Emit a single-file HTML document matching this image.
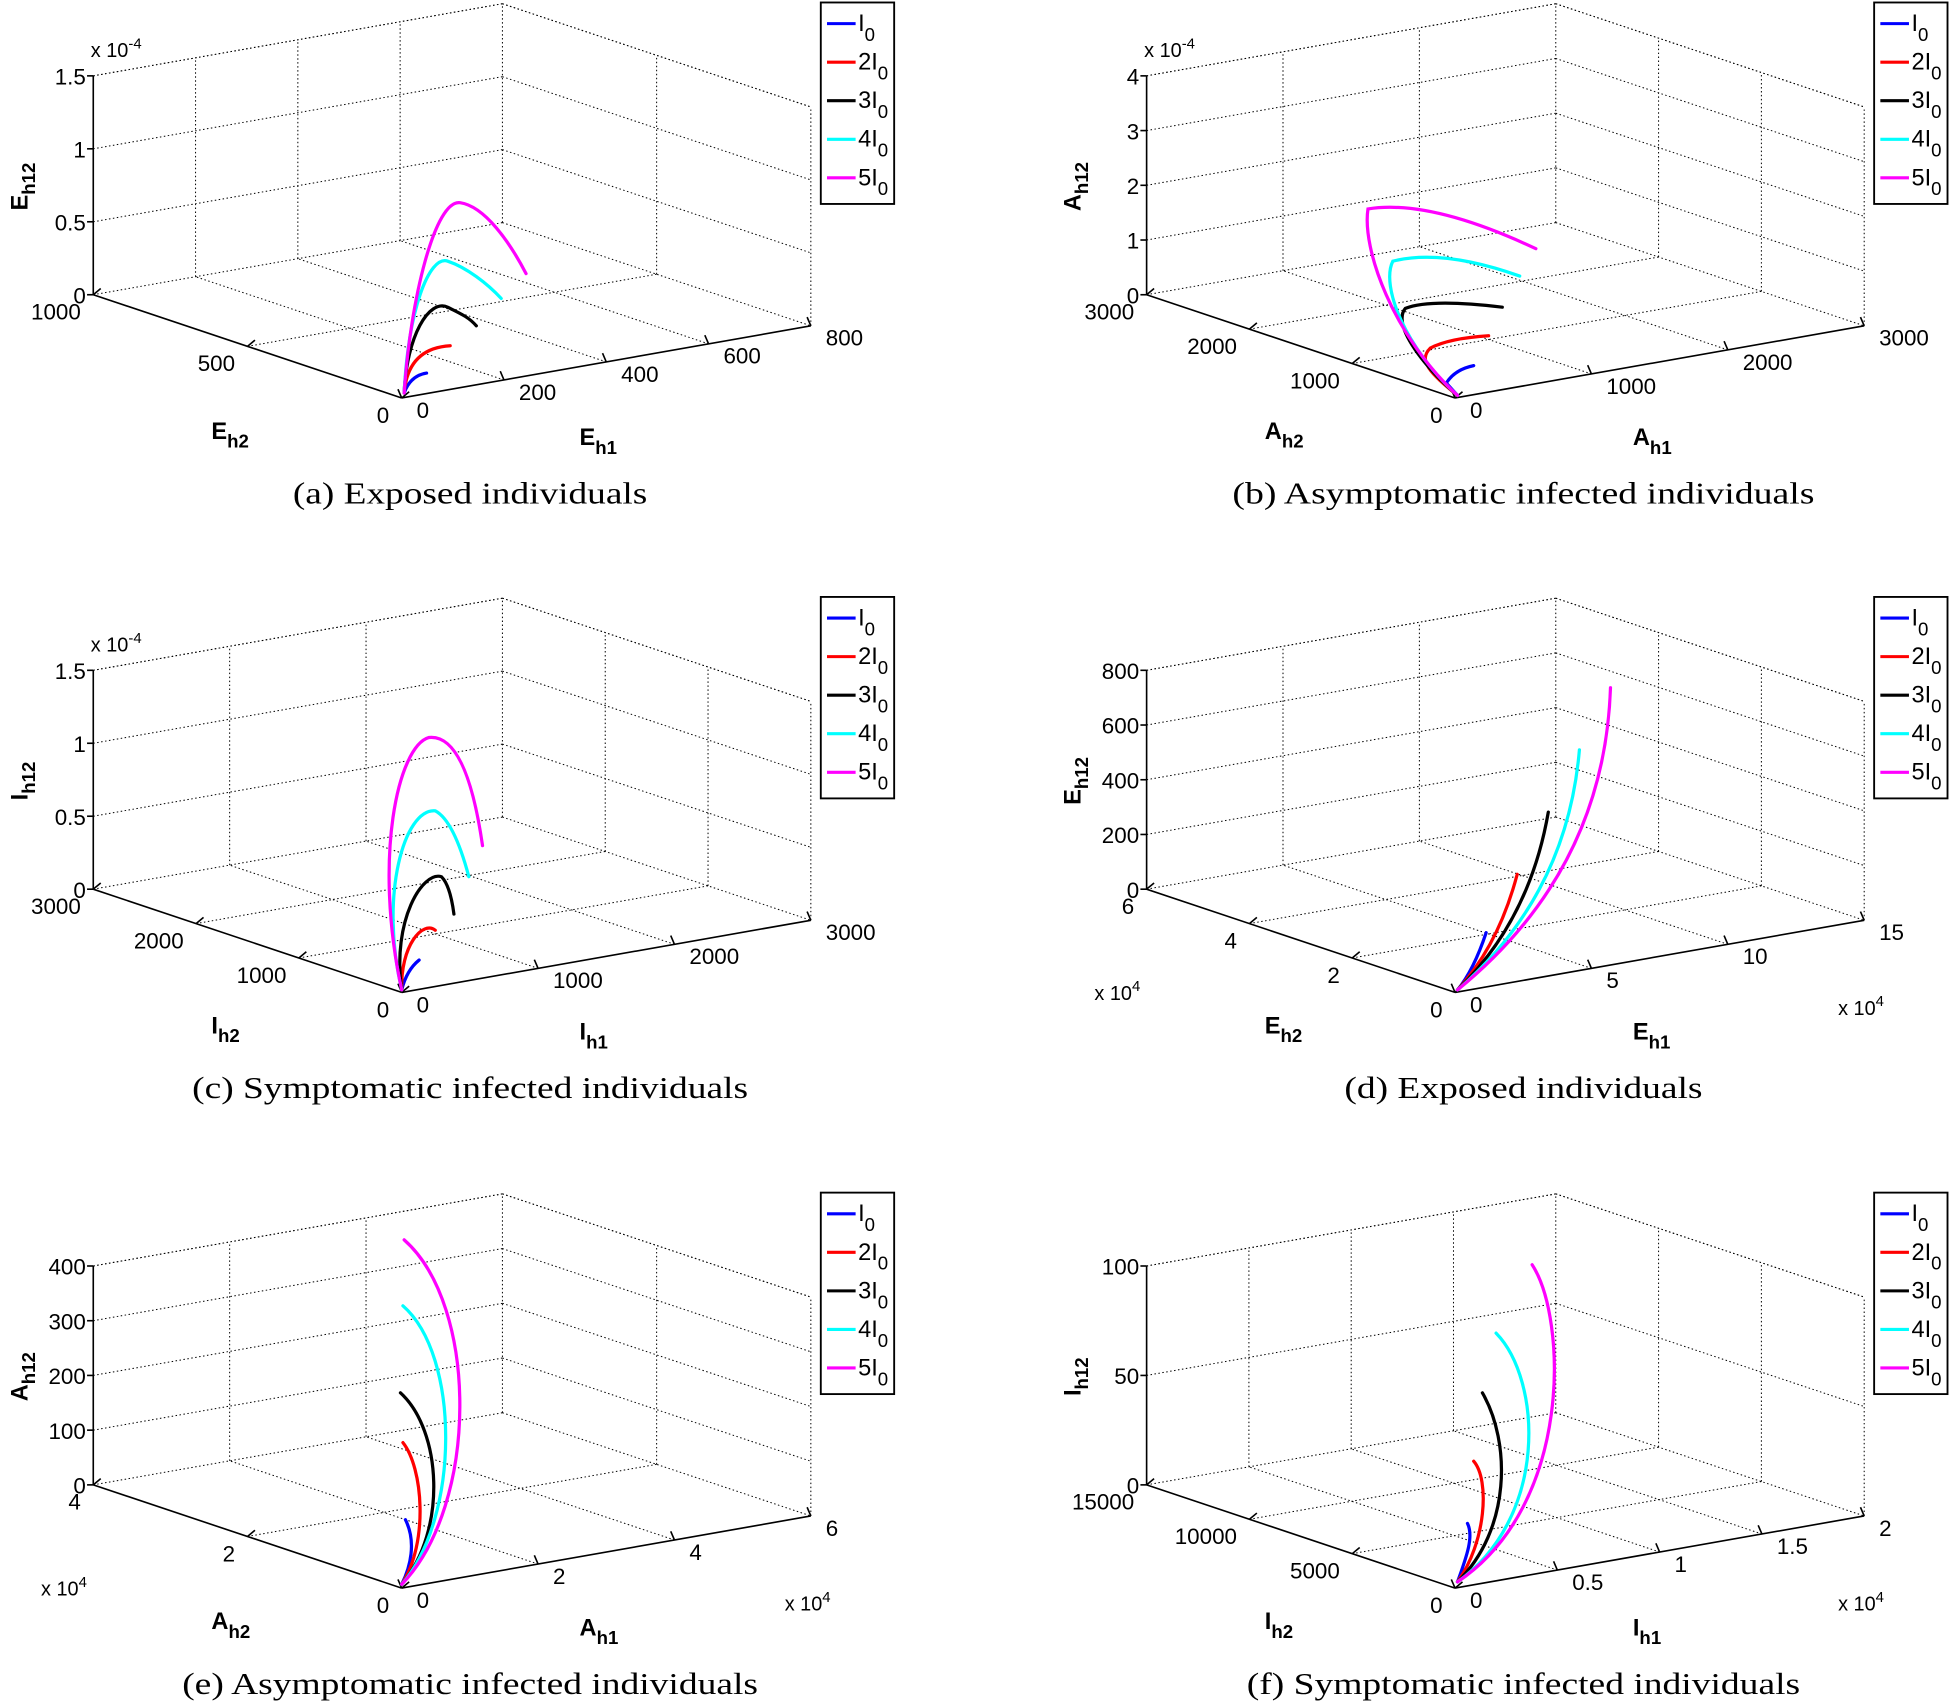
<!DOCTYPE html>
<html><head><meta charset="utf-8">
<style>
html,body{margin:0;padding:0;background:#fff;}
svg{display:block;}
text{font-family:"Liberation Sans",Arial,sans-serif;}
</style></head>
<body>
<svg id="s" width="1950" height="1703" viewBox="0 0 1568 1369.4" preserveAspectRatio="none" xmlns="http://www.w3.org/2000/svg"></svg>
<script>
const S=document.getElementById('s');
let out='';
const panels=[
 {dx:0,dy:0,z:['0','0.5','1','1.5'],h2:['0','500','1000'],h1:['0','200','400','600','800'],zexp:true,h2exp:false,h1exp:false,L:'E',cap:'(a) Exposed individuals',cl:285},
 {dx:847,dy:0,z:['0','1','2','3','4'],h2:['0','1000','2000','3000'],h1:['0','1000','2000','3000'],zexp:true,L:'A',cap:'(b) Asymptomatic infected individuals',cl:468},
 {dx:0,dy:478,z:['0','0.5','1','1.5'],h2:['0','1000','2000','3000'],h1:['0','1000','2000','3000'],zexp:true,L:'I',cap:'(c) Symptomatic infected individuals',cl:447},
 {dx:847,dy:478,z:['0','200','400','600','800'],h2:['0','2','4','6'],h1:['0','5','10','15'],h2exp:true,h1exp:true,L:'E',cap:'(d) Exposed individuals',cl:288},
 {dx:0,dy:957,z:['0','100','200','300','400'],h2:['0','2','4'],h1:['0','2','4','6'],h2exp:true,h1exp:true,L:'A',cap:'(e) Asymptomatic infected individuals',cl:463},
 {dx:847,dy:957,z:['0','50','100'],h2:['0','5000','10000','15000'],h1:['0','0.5','1','1.5','2'],h1exp:true,L:'I',cap:'(f) Symptomatic infected individuals',cl:445}
];
const curves=[
 ['M325,316 Q330,302 343,300','M325,316 Q328,280 362,278','M325,316 C327,270 345,240 360,247 C370,252 377,255 383,262','M325,316 C328,250 345,205 360,210 C375,215 392,228 403,240','M325,316 C330,240 350,160 370,163 C390,166 410,195 423,220'],
 ['M1172,318 L1163,308 Q1170,297 1185,294','M1172,318 C1150,300 1140,290 1150,280 Q1165,272 1197,270','M1172,318 C1140,290 1120,260 1130,248 Q1150,240 1208,247','M1172,318 C1130,280 1110,230 1120,210 Q1160,200 1222,222','M1172,318 C1120,270 1095,200 1100,168 Q1150,160 1235,200'],
 ['M323,796 Q327,780 337,772','M323,796 C322,760 340,740 350,748','M323,796 C315,740 340,700 355,705 Q362,712 365,735','M323,796 C305,720 325,650 350,652 Q365,660 377,705','M323,796 C300,690 320,600 345,593 Q375,590 388,680'],
 ['M1172,796 Q1185,780 1195,750','M1172,796 Q1205,760 1220,703','M1172,796 Q1230,740 1245,653','M1172,796 Q1260,720 1270,603','M1172,796 Q1290,700 1295,553'],
 ['M323,1274 C330,1260 335,1240 326,1222','M323,1274 C345,1240 340,1180 324,1160','M323,1274 C360,1230 355,1150 322,1120','M323,1274 C370,1220 370,1090 324,1050','M323,1274 C385,1210 385,1050 325,997'],
 ['M1172,1272 C1180,1250 1185,1235 1180,1225','M1172,1272 C1195,1240 1198,1190 1185,1175','M1172,1272 C1215,1230 1215,1160 1192,1120','M1172,1272 C1245,1220 1240,1110 1203,1072','M1172,1272 C1265,1210 1260,1060 1232,1017']
];
const cols=['#0000ff','#ff0000','#000000','#00ffff','#ff00ff'];
function ln(a,b,dot){out+=`<line x1="${a[0]}" y1="${a[1]}" x2="${b[0]}" y2="${b[1]}" stroke="#000" stroke-width="${dot?0.8:1.3}" ${dot?'stroke-dasharray="1.2 2"':''}/>`;}
function tx(x,y,s,anchor,size,extra){out+=`<text x="${x}" y="${y}" font-size="${size||18}" text-anchor="${anchor||'start'}" ${extra||''}>${s}</text>`;}
panels.forEach((p,i)=>{
 const dx=p.dx,dy=p.dy;
 const O=[323+dx,320+dy],A=[75+dx,237+dy],B=[652+dx,262+dy];
 const C=[A[0]+B[0]-O[0],A[1]+B[1]-O[1]];const H=176;
 const up=(P,h)=>[P[0],P[1]-h];
 const vB=[B[0]-O[0],B[1]-O[1]],vA=[A[0]-O[0],A[1]-O[1]];
 const add=(P,v,f)=>[P[0]+v[0]*f,P[1]+v[1]*f];
 ln(A,C,1);ln(C,B,1);ln(up(A,H),up(C,H),1);ln(up(C,H),up(B,H),1);ln(C,up(C,H),1);ln(B,up(B,H),1);
 const nz=p.z.length-1;
 for(let k=1;k<=nz;k++){const h=H*k/nz;ln(up(A,h),up(C,h),1);ln(up(C,h),up(B,h),1);}
 const n1=p.h1.length-1;
 for(let k=1;k<n1;k++){const f=k/n1;const P=add(O,vB,f),Q=add(A,vB,f);ln(P,Q,1);ln(Q,up(Q,H),1);}
 const n2=p.h2.length-1;
 for(let k=1;k<n2;k++){const f=k/n2;const P=add(O,vA,f),Q=add(B,vA,f);ln(P,Q,1);ln(Q,up(Q,H),1);}
 ln(A,up(A,H));ln(O,A);ln(O,B);
 for(let k=0;k<=nz;k++){const P=up(A,H*k/nz);ln(P,[P[0]-5,P[1]]);tx(P[0]-6,P[1]+7,p.z[k],'end');}
 for(let k=0;k<=n1;k++){const P=add(O,vB,k/n1);ln(P,[P[0]-3,P[1]-7]);tx(P[0]+12,P[1]+16,p.h1[k],'start');}
 for(let k=0;k<=n2;k++){const P=add(O,vA,k/n2);ln(P,[P[0]+6,P[1]-5]);tx(P[0]-10,P[1]+20,p.h2[k],'end');}
 if(p.zexp) out+=`<text x="${73+dx}" y="${46+dy}" font-size="16">x 10<tspan dy="-7" font-size="12">-4</tspan></text>`;
 if(p.h2exp) out+=`<text x="${33+dx}" y="${326+dy}" font-size="16">x 10<tspan dy="-7" font-size="12">4</tspan></text>`;
 if(p.h1exp) out+=`<text x="${631+dx}" y="${338+dy}" font-size="16">x 10<tspan dy="-7" font-size="12">4</tspan></text>`;
 out+=`<text transform="translate(${22+dx},${150+dy}) rotate(-90)" font-size="19" font-weight="bold" text-anchor="middle">${p.L}<tspan dy="6" font-size="15">h12</tspan></text>`;
 out+=`<text x="${170+dx}" y="${353+dy}" font-size="19" font-weight="bold">${p.L}<tspan dy="7" font-size="15">h2</tspan></text>`;
 out+=`<text x="${466+dx}" y="${358+dy}" font-size="19" font-weight="bold">${p.L}<tspan dy="7" font-size="15">h1</tspan></text>`;
 curves[i].forEach((d,j)=>{out+=`<path d="${d}" fill="none" stroke="${cols[j]}" stroke-width="2.6" stroke-linecap="round"/>`;});
 const lx=660+dx,ly=2+dy;
 out+=`<rect x="${lx}" y="${ly}" width="59" height="162" fill="#fff" stroke="#000" stroke-width="1.5"/>`;
 ['I','2I','3I','4I','5I'].forEach((s,j)=>{const y=ly+17+j*31;out+=`<line x1="${lx+5}" y1="${y}" x2="${lx+28}" y2="${y}" stroke="${cols[j]}" stroke-width="2.5"/>`;
  out+=`<text x="${lx+30}" y="${y+6}" font-size="19">${s}<tspan dy="8" font-size="15">0</tspan></text>`;});
 out+=`<text x="${378+dx-p.cl/2}" y="${405+dy}" font-size="25" textLength="${p.cl}" lengthAdjust="spacingAndGlyphs" style="font-family:'Liberation Serif',serif">${p.cap}</text>`;
});
S.innerHTML=out;
</script>
</body></html>
